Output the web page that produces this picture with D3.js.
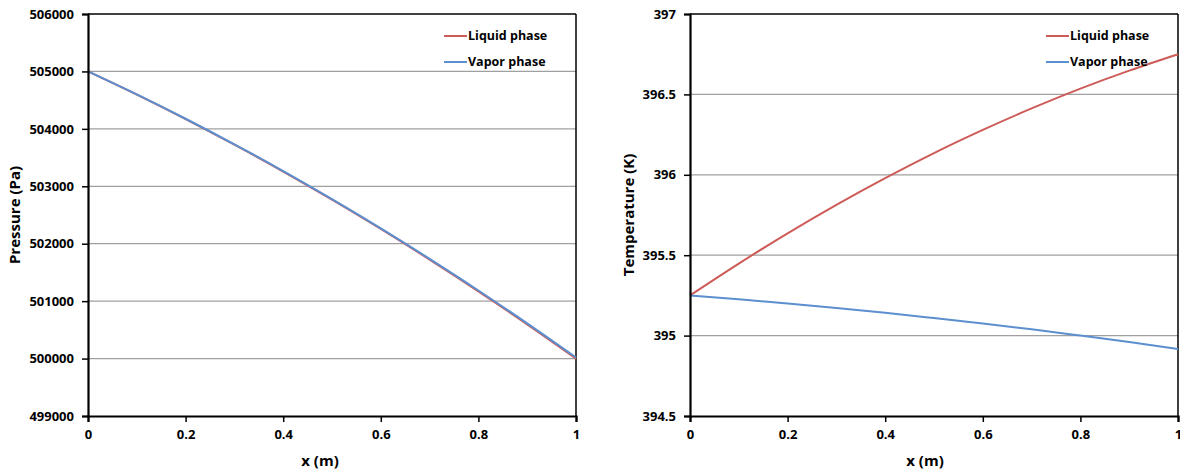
<!DOCTYPE html>
<html>
<head>
<meta charset="utf-8">
<script src="https://cdn.jsdelivr.net/npm/d3@7"></script>
<style>
  body { margin: 0; background: #fff; }
  svg { display: block; }
  text { font-family: "Open Sans", "Liberation Sans", sans-serif; font-weight: bold; fill: #000; }
</style>
</head>
<body>
<svg id="chart" width="1180" height="470"></svg>
<script>
// ---- data ----
const xValues = [0, 0.1, 0.2, 0.3, 0.4, 0.5, 0.6, 0.7, 0.8, 0.9, 1.0];
const pressureLiquid = [505000, 504596, 504171, 503724, 503257, 502767, 502257, 501724, 501171, 500596, 500000];
const pressureVapor  = [505000, 504599, 504176, 503731, 503266, 502777, 502268, 501737, 501186, 500612, 500018];
const tempLiquid = [395.25, 395.448, 395.636, 395.813, 395.979, 396.135, 396.279, 396.413, 396.536, 396.648, 396.75];
const tempVapor  = [395.25, 395.226, 395.200, 395.172, 395.142, 395.109, 395.075, 395.039, 395.000, 394.960, 394.917];
const xTicks = [0, 0.2, 0.4, 0.6, 0.8, 1];
const pressureTicks = [499000, 500000, 501000, 502000, 503000, 504000, 505000, 506000];
const tempTicks = [394.5, 395, 395.5, 396, 396.5, 397];
const seriesNames = ["Liquid phase", "Vapor phase"];
const seriesColors = ["#cd5c59", "#5b8fcf"];

const svg = d3.select("#chart");

function drawPanel(opts) {
  const { left, right, top, bottom, yDomain, yTicks, yFmt, yTitle, series, titleX, xTitleX, legendX } = opts;
  const x = d3.scaleLinear().domain([0, 1]).range([left, right]);
  const y = d3.scaleLinear().domain(yDomain).range([bottom, top]);
  const g = svg.append("g");

  // gridlines
  g.append("g").selectAll("line")
    .data(yTicks.filter(t => t !== yDomain[0] && t !== yDomain[1]))
    .join("line")
    .attr("x1", left).attr("x2", right)
    .attr("y1", d => y(d)).attr("y2", d => y(d))
    .attr("stroke", "#a0a0a0").attr("stroke-width", 1.2);

  // top and right border
  g.append("line").attr("x1", left).attr("x2", right).attr("y1", top).attr("y2", top)
    .attr("stroke", "#000").attr("stroke-width", 1.5);
  g.append("line").attr("x1", right).attr("x2", right).attr("y1", top).attr("y2", bottom)
    .attr("stroke", "#000").attr("stroke-width", 1.5);

  // series
  const line = d3.line().x((d, i) => x(xValues[i])).y(d => y(d)).curve(d3.curveMonotoneX);
  series.forEach((s, i) => {
    g.append("path").datum(s).attr("d", line)
      .attr("fill", "none").attr("stroke", seriesColors[i]).attr("stroke-width", 2);
  });

  // axes
  const yAxis = d3.axisLeft(y).tickValues(yTicks).tickFormat(yFmt).tickSize(6).tickPadding(8);
  const ya = g.append("g").attr("transform", `translate(${left},0)`).call(yAxis);
  const xAxis = d3.axisBottom(x).tickValues(xTicks).tickFormat(d3.format("")).tickSize(6).tickPadding(8);
  const xa = g.append("g").attr("transform", `translate(0,${bottom})`).call(xAxis);
  [ya, xa].forEach(a => {
    a.select(".domain").attr("stroke", "#000").attr("stroke-width", 2.2);
    a.selectAll(".tick line").attr("stroke", "#000").attr("stroke-width", 1.5);
    a.selectAll(".tick text").style("font-size", "13px").style("font-family", "'Open Sans', sans-serif").style("font-weight", "bold");
  });

  // titles
  g.append("text").attr("transform", `translate(${titleX},${(top + bottom) / 2}) rotate(-90)`)
    .attr("text-anchor", "middle").style("font-size", "15px").text(yTitle);
  g.append("text").attr("x", xTitleX).attr("y", 466)
    .attr("text-anchor", "middle").style("font-size", "15px").text("x (m)");

  // legend
  seriesNames.forEach((n, i) => {
    const ly = 36 + i * 26;
    g.append("line").attr("x1", legendX).attr("x2", legendX + 23).attr("y1", ly).attr("y2", ly)
      .attr("stroke", seriesColors[i]).attr("stroke-width", 2);
    g.append("text").attr("x", legendX + 24).attr("y", ly).attr("dy", "0.35em")
      .style("font-size", "12.5px").text(n);
  });
}

drawPanel({
  left: 88, right: 576, top: 14, bottom: 416,
  yDomain: [499000, 506000], yTicks: pressureTicks, yFmt: d3.format("d"),
  yTitle: "Pressure (Pa)", series: [pressureLiquid, pressureVapor],
  titleX: 20, xTitleX: 320, legendX: 444
});
drawPanel({
  left: 690, right: 1178, top: 14, bottom: 416,
  yDomain: [394.5, 397], yTicks: tempTicks, yFmt: d => String(d),
  yTitle: "Temperature (K)", series: [tempLiquid, tempVapor],
  titleX: 634, xTitleX: 925, legendX: 1046
});
</script>
</body>
</html>
